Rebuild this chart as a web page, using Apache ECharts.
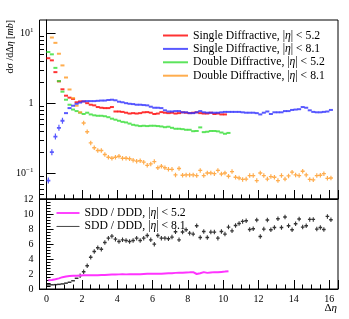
<!DOCTYPE html>
<html><head><meta charset="utf-8">
<script src="https://cdn.jsdelivr.net/npm/echarts@6/dist/echarts.min.js"></script>
<style>html,body{margin:0;padding:0;background:#fff}#c{width:349px;height:319px}</style>
</head><body><div id="c"></div>
<script>
// Bin centres of the Δη histogram (width 0.2)
const binCenters = [0.1,0.3,0.5,0.7,0.9,1.1,1.3,1.5,1.7,1.9,2.1,2.3,2.5,2.7,2.9,3.1,3.3,3.5,3.7,3.9,
  4.1,4.3,4.5,4.7,4.9,5.1,5.3,5.5,5.7,5.9,6.1,6.3,6.5,6.7,6.9,7.1,7.3,7.5,7.7,7.9,
  8.1,8.3,8.5,8.7,8.9,9.1,9.3,9.5,9.7,9.9,10.1,10.3,10.5,10.7,10.9,11.1,11.3,11.5,11.7,11.9,
  12.1,12.3,12.5,12.7,12.9,13.1,13.3,13.5,13.7,13.9,14.1,14.3,14.5,14.7,14.9,15.1,15.3,15.5,15.7,15.9,16.1];

// dσ/dΔη [mb]
const sd52 = [4.4,4.1,2.78,2.05,1.58,1.28,1.2,1.15,1.03,1.06,1.06,1.0,0.95,0.93,0.88,0.86,0.85,0.85,0.88,0.76,
  0.76,0.75,0.73,0.71,0.72,0.71,0.72,0.74,0.745,0.73,0.70,0.71,0.745,0.73,0.72,0.73,0.71,0.72,0.74,0.73,
  0.72,0.73,0.74,0.72,0.71,0.71,0.73,0.70,0.71,0.69,0.69];
const sd81 = [0.078,0.199,0.333,0.444,0.56,0.72,0.85,0.92,0.98,1.02,1.06,1.07,1.07,1.07,1.08,1.09,1.09,1.11,1.12,1.1,
  1.05,1.03,1.0,0.98,0.97,0.95,0.95,0.94,0.93,0.89,0.86,0.86,0.85,0.79,0.76,0.76,0.77,0.77,0.74,0.74,
  0.72,0.72,0.74,0.77,0.74,0.73,0.73,0.73,0.73,0.74,0.75,0.75,0.75,0.75,0.75,0.74,0.73,0.73,0.73,0.72,
  0.69,0.73,0.76,0.70,0.74,0.74,0.74,0.77,0.77,0.80,0.81,0.82,0.88,0.86,0.79,0.75,0.74,0.74,0.75,0.76,0.80];
const dd52 = [5.4,5.0,3.2,2.07,1.46,1.12,0.95,0.81,0.77,0.73,0.70,0.73,0.69,0.67,0.66,0.66,0.65,0.63,0.60,0.58,
  0.56,0.54,0.53,0.51,0.49,0.48,0.47,0.475,0.47,0.475,0.475,0.47,0.464,0.453,0.46,0.444,0.43,0.43,0.425,0.416,
  0.416,0.397,0.40,0.45,0.385,0.39,0.40,0.40,0.395,0.38,0.365,0.375];
const dd81 = [null,8.7,7.3,5.1,3.47,2.33,1.57,1.18,0.92,0.74,0.52,0.39,0.27,0.23,0.21,0.21,0.184,0.168,0.163,0.168,
  0.174,0.163,0.163,0.16,0.153,0.148,0.15,0.143,0.129,0.135,0.146,0.119,0.125,0.119,0.113,0.113,0.094,0.116,0.093,0.094,
  0.094,0.094,0.092,0.109,0.092,0.1,0.1,0.098,0.109,0.097,0.1,0.09,0.105,0.087,0.085,0.081,0.082,0.092,0.092,0.078,
  0.1,0.092,0.082,0.089,0.087,0.078,0.092,0.082,0.091,0.103,0.094,0.092,0.106,0.094,0.081,0.08,0.092,0.093,0.098,0.084,0.085];

// SDD / DDD ratios
const ratio52 = [1.18,1.2,1.3,1.42,1.58,1.66,1.72,1.76,1.78,1.8,1.82,1.82,1.82,1.83,1.84,1.86,1.87,1.9,1.92,1.94,
  1.95,1.96,1.95,1.96,1.97,1.98,1.98,2.0,2.02,2.03,2.05,2.05,2.02,2.08,2.1,2.1,2.15,2.18,2.18,2.2,
  2.22,2.25,2.0,2.1,2.25,2.15,2.2,2.25,2.22,2.28,2.32,2.37];
const ratio81 = [0.55,0.56,0.58,0.62,0.68,0.78,0.9,1.1,1.43,1.78,2.3,3.1,4.24,5.0,5.5,5.3,6.2,6.78,7.05,6.65,
  6.33,6.56,6.47,6.33,6.47,6.78,6.47,6.78,7.13,6.56,5.98,7.13,6.78,6.78,6.7,6.92,7.63,6.56,7.6,7.9,
  7.45,7.32,8.43,6.87,7.67,6.87,7.59,7.59,6.78,7.67,7.32,8.26,7.76,8.47,8.74,9.01,9.1,7.94,8.03,9.2,
  7.0,7.99,9.2,7.9,8.2,9.37,8.2,9.6,8.43,7.9,8.7,9.33,8.26,8.43,9.28,9.28,7.99,8.2,7.94,9.68,9.24];

const logMinorTicks = [0.05,0.06,0.07,0.08,0.09,0.2,0.3,0.4,0.5,0.6,0.7,0.8,0.9,2,3,4,5,6,7,8,9];

const names = {
  sd52: 'Single Diffractive, |η| < 5.2',
  sd81: 'Single Diffractive, |η| < 8.1',
  dd52: 'Double Diffractive, |η| < 5.2',
  dd81: 'Double Diffractive, |η| < 8.1',
  r52: 'SDD / DDD, |η| < 5.2',
  r81: 'SDD / DDD, |η| < 8.1'
};

const FONT = 'Liberation Serif';
const PLUS = 'path://M0,3.5H10V6.5H0ZM3.5,0H6.5V10H3.5Z';
const pairs = arr => arr.map((v, i) => [binCenters[i], v]).filter(p => p[1] != null);
const italicEta = s => s.replace('η', '{i|η}');

const chart = echarts.init(document.getElementById('c'), null, {renderer: 'canvas'});
const xCommon = {
  type: 'value', min: -0.4, max: 16.5, splitNumber: 8,
  axisLine: {show: true, onZero: false, lineStyle: {color: '#000', width: 1}},
  axisTick: {show: true, inside: true, length: 9, lineStyle: {color: '#000'}},
  minorTick: {show: true, splitNumber: 4, length: 4.5, lineStyle: {color: '#000'}},
  splitLine: {show: false}
};
const option = {
  animation: false,
  backgroundColor: '#fff',
  textStyle: {fontFamily: FONT},
  grid: [
    {left: 39.5, right: 11, top: 20, height: 179, show: true, borderColor: '#000', borderWidth: 1, backgroundColor: 'transparent'},
    {left: 39.5, right: 11, top: 199, height: 90, show: true, borderColor: '#000', borderWidth: 1, backgroundColor: 'transparent'}
  ],
  xAxis: [
    Object.assign({}, xCommon, {gridIndex: 0, axisLabel: {show: false}}),
    Object.assign({}, xCommon, {gridIndex: 1,
      axisLabel: {show: true, margin: 5, color: '#000', fontFamily: FONT, fontSize: 10, showMinLabel: false, showMaxLabel: false}})
  ],
  yAxis: [
    {type: 'log', logBase: 10, gridIndex: 0, min: 0.0425, max: 15.5,
      axisLine: {show: true, lineStyle: {color: '#000'}},
      axisTick: {show: true, inside: true, length: 9, lineStyle: {color: '#000'}},
      splitLine: {show: false},
      axisLabel: {show: true, margin: 6, color: '#000', fontFamily: FONT, fontSize: 10, showMinLabel: false, showMaxLabel: false,
        formatter: v => {
          if (Math.abs(v - 10) < 1e-6) return '10{s|1}';
          if (Math.abs(v - 1) < 1e-6) return '1';
          if (Math.abs(v - 0.1) < 1e-6) return '10{s|−1}';
          return '';
        },
        rich: {s: {fontSize: 7, fontFamily: FONT, color: '#000', padding: [0, 0, 6, 0]}}
      }
    },
    {type: 'value', gridIndex: 1, min: 0, max: 12, interval: 2,
      axisLine: {show: true, lineStyle: {color: '#000'}},
      axisTick: {show: true, inside: true, length: 7, lineStyle: {color: '#000'}},
      minorTick: {show: true, splitNumber: 5, length: 4, lineStyle: {color: '#000'}},
      splitLine: {show: false},
      axisLabel: {show: true, margin: 6, color: '#000', fontFamily: FONT, fontSize: 10}
    }
  ],
  legend: [
    {orient: 'vertical', left: 158, top: 24.5, itemWidth: 25, itemHeight: 2, itemGap: 1.4, selectedMode: false,
      data: ['sd52', 'sd81', 'dd52', 'dd81'].map(n => ({name: names[n], icon: 'rect'})),
      formatter: italicEta,
      textStyle: {fontFamily: FONT, fontSize: 11.7, color: '#000', rich: {i: {fontStyle: 'italic', fontFamily: FONT, fontSize: 11.7, color: '#000'}}}
    },
    {orient: 'vertical', left: 51.5, top: 202, itemWidth: 23, itemHeight: 2, itemGap: 1.4, selectedMode: false,
      data: [{name: names.r52, icon: 'path://M0,0H25V2H0Z'}, {name: names.r81, icon: 'path://M0,0H25V1H0Z'}],
      formatter: italicEta,
      textStyle: {fontFamily: FONT, fontSize: 11.7, color: '#000', rich: {i: {fontStyle: 'italic', fontFamily: FONT, fontSize: 11.7, color: '#000'}}}
    }
  ],
  series: [
    {type: 'custom', xAxisIndex: 0, yAxisIndex: 0, silent: true, z: 5,
      data: logMinorTicks.map(v => [0, v]),
      renderItem: (params, api) => {
        const p = api.coord([0, api.value(1)]);
        const y = Math.round(p[1]) + 0.5;
        const x0 = params.coordSys.x;
        return {type: 'line', shape: {x1: x0, y1: y, x2: x0 + 4.5, y2: y}, style: {stroke: '#000', lineWidth: 1}};
      }
    },
    {name: names.sd52, type: 'scatter', xAxisIndex: 0, yAxisIndex: 0, data: pairs(sd52),
      symbol: 'rect', symbolSize: [4, 2], itemStyle: {color: '#ff0000'}},
    {name: names.dd52, type: 'scatter', xAxisIndex: 0, yAxisIndex: 0, data: pairs(dd52),
      symbol: 'rect', symbolSize: [4, 2], itemStyle: {color: '#33dd33'}},
    {name: names.dd81, type: 'scatter', xAxisIndex: 0, yAxisIndex: 0, data: pairs(dd81),
      symbol: (v, p) => p.dataIndex < 9 ? 'rect' : PLUS,
      symbolSize: (v, p) => p.dataIndex < 9 ? [4, 2] : [4, 4.5], itemStyle: {color: '#ff9922'}},
    {name: names.sd81, type: 'scatter', xAxisIndex: 0, yAxisIndex: 0, data: pairs(sd81),
      symbol: (v, p) => p.dataIndex < 5 ? PLUS : 'rect',
      symbolSize: (v, p) => p.dataIndex < 5 ? [4, 6] : [4, 2], itemStyle: {color: '#2f2fff'}},
    {name: names.r52, type: 'line', xAxisIndex: 1, yAxisIndex: 1, data: pairs(ratio52),
      showSymbol: false, symbol: 'none', lineStyle: {color: '#ff33ff', width: 2}, itemStyle: {color: '#ff33ff'}},
    {name: names.r81, type: 'scatter', xAxisIndex: 1, yAxisIndex: 1, data: pairs(ratio81),
      symbol: (v, p) => p.dataIndex < 9 ? 'rect' : PLUS,
      symbolSize: (v, p) => p.dataIndex < 9 ? [3.7, 1.5] : [3.6, 4.5], itemStyle: {color: '#000'}}
  ],
  graphic: [
    {type: 'text', x: 10, y: 20, rotation: Math.PI / 2,
      style: {text: 'dσ /dΔ{i|η} [{i|mb}]', fontFamily: FONT, fontSize: 10, fill: '#000', align: 'right', verticalAlign: 'middle',
        rich: {i: {fontStyle: 'italic', fontFamily: FONT, fontSize: 10, fill: '#000'}}}},
    {type: 'text', x: 337, y: 308,
      style: {text: 'Δ{i|η}', fontFamily: FONT, fontSize: 11, fill: '#000', align: 'right', verticalAlign: 'middle',
        rich: {i: {fontStyle: 'italic', fontFamily: FONT, fontSize: 11, fill: '#000'}}}}
  ]
};
chart.setOption(option);
</script>
</body></html>
